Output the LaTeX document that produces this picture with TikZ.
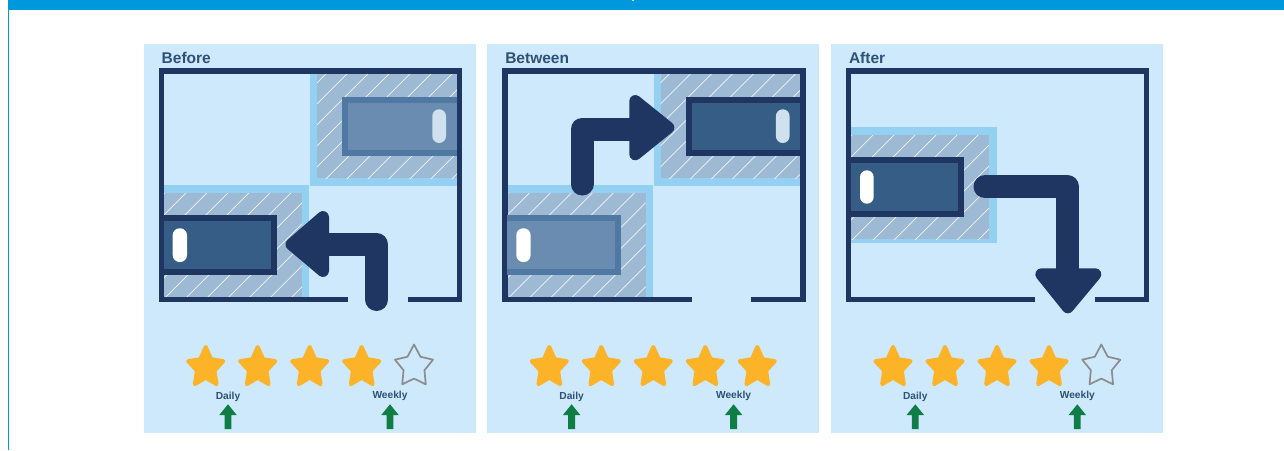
\documentclass[tikz,border=0pt]{standalone}
\usepackage{fontspec}
\setmainfont{Liberation Sans}
\definecolor{barblue}{HTML}{0098DC}
\definecolor{panelblue}{HTML}{CDE9FB}
\definecolor{slotblue}{HTML}{93D0F1}
\definecolor{hatchblue}{HTML}{9DB9D3}
\definecolor{navy}{HTML}{1F3663}
\definecolor{carfill}{HTML}{355D85}
\definecolor{fadefill}{HTML}{6A8CB0}
\definecolor{fadeborder}{HTML}{4F78A3}
\definecolor{fadehandle}{HTML}{CFE0EF}
\definecolor{starorange}{HTML}{FDB328}
\definecolor{stargrey}{HTML}{8C8C8C}
\definecolor{arrowgreen}{HTML}{0F7D45}
\definecolor{titleblue}{HTML}{2F5078}
\tikzset{
  panelbox/.style={fill=panelblue,draw=none},
  wall/.style={draw=navy,line width=5.4pt,line cap=butt,miter limit=10},
  bigshaft/.style={draw=navy,line width=23pt,line join=round},
  bighead/.style={draw=navy,fill=navy,line width=12pt,line join=round},
  paneltitle/.style={font=\bfseries\fontsize{15.5}{18}\selectfont,text=titleblue,anchor=base west,inner sep=0pt},
  ratelabel/.style={font=\bfseries\fontsize{10.2}{12}\selectfont,text=titleblue,anchor=center,inner sep=0pt},
  greenarrow/.style={fill=arrowgreen,draw=none}
}
% hatched slot: x1 y1 x2 y2 phase
\newcommand{\hatchbox}[5]{%
  \fill[hatchblue] (#1,#2) rectangle (#3,#4);
  \begin{scope}
    \clip (#1,#2) rectangle (#3,#4);
    \foreach \k in {0,...,34}{
      \draw[white!85!hatchblue,line width=0.7pt] ({#5+21*\k-#2},#2) -- ++(-150,150);
    }
  \end{scope}}
\newcommand{\handle}[5]{%
  \fill[#5,rounded corners=6.8pt] (#1,#2) rectangle (#3,#4);}
\newcommand{\fullstar}[2]{%
  \filldraw[fill=starorange,draw=starorange,line width=4pt,line join=round]
    plot[samples at={0,1,...,9}] ({#1+18.4*(1-0.5*mod(\x,2))*sin(36*\x)},{#2-20.5*(1-0.5*mod(\x,2))*cos(36*\x)}) -- cycle;}
\newcommand{\emptystar}[2]{%
  \draw[draw=stargrey,line width=1.7pt,line join=round]
    plot[samples at={0,1,...,9}] ({#1+20*(1-0.45*mod(\x,2))*sin(36*\x)},{#2-22*(1-0.45*mod(\x,2))*cos(36*\x)}) -- cycle;}
\newcommand{\uparrowgreen}[1]{%
  \fill[greenarrow] ({#1-3.4},429) -- ({#1-3.4},415) -- ({#1-8.7},415) -- (#1,404.3) -- ({#1+8.7},415) -- ({#1+3.4},415) -- ({#1+3.4},429) -- cycle;}
\newcommand{\frameroom}{%
  \draw[wall] (348,299.2) -- (161.4,299.2) -- (161.4,71) -- (459.2,71) -- (459.2,299.2) -- (407.7,299.2);}
\newcommand{\slotTR}[1]{%
  \fill[slotblue] (310,73) rectangle (457.5,186);
  \hatchbox{317}{73}{457.5}{178}{#1}}
\newcommand{\slotBL}[1]{%
  \fill[slotblue] (162,185) rectangle (309,298);
  \hatchbox{162}{193}{302}{298}{#1}}
\newcommand{\ratings}[3]{%
  \fullstar{205.7}{367.5}\fullstar{257.7}{367.5}\fullstar{309.7}{367.5}\fullstar{361.7}{367.5}
  #1
  \node[ratelabel] (#2) at (228,397) {Daily};
  \node[ratelabel] (#3) at (390,396) {Weekly};
  \uparrowgreen{228}\uparrowgreen{390}}
\begin{document}
\begin{tikzpicture}[x=1pt,y=-1pt]
\useasboundingbox (0,0) rectangle (1284,450);
\fill[white] (0,0) rectangle (1284,450);
\fill[barblue] (7.6,0) rectangle (1284,9.5);
\fill[barblue] (7.6,0) rectangle (9.2,450);
\fill[white!75!barblue] (631.5,0) rectangle (634,1.2);

% ---------- Before
\begin{scope}
\fill[panelbox] (143.5,44) rectangle (475.5,432.6);
\node[paneltitle] (titleA) at (161.5,63.3) {Before};
\slotTR{0.8}
\slotBL{0.8}
\frameroom
\fill[fadeborder] (342,96.7) rectangle (456.7,156.3);
\fill[fadefill] (348,102.7) rectangle (456.7,150.3);
\handle{432.3}{109.3}{446}{143}{fadehandle}
\fill[navy] (163.7,215) rectangle (277,275);
\fill[carfill] (163.7,221) rectangle (271,269);
\handle{172.7}{228.3}{187}{262}{white}
\coordinate (a1) at (376.7,299.5);
\coordinate (a2) at (376.7,244.4);
\coordinate (a3) at (320,244.4);
\draw[bigshaft,line cap=round] (a1) -- (a2) -- (a3);
\coordinate (ah1) at (323,217);
\coordinate (ah2) at (291.5,244.4);
\coordinate (ah3) at (323,271);
\filldraw[bighead] (ah1) -- (ah2) -- (ah3) -- cycle;
\ratings{\emptystar{414}{366.5}}{dailyA}{weeklyA}
\end{scope}

% ---------- Between
\begin{scope}[xshift=343.6pt]
\fill[panelbox] (143.4,44) rectangle (475.4,432.6);
\node[paneltitle] (titleB) at (161.5,63.3) {Between};
\slotTR{0.8}
\slotBL{0.8}
\frameroom
\fill[navy] (342,96.7) rectangle (456.7,156.3);
\fill[carfill] (348,102.7) rectangle (456.7,150.3);
\handle{432.3}{109.3}{446}{143}{fadehandle}
\fill[fadeborder] (163.7,215) rectangle (277,275);
\fill[fadefill] (163.7,221) rectangle (271,269);
\handle{172.7}{228.3}{187}{262}{white}
\coordinate (b1) at (238.4,184);
\coordinate (b2) at (238.4,129);
\coordinate (b3) at (295,129);
\draw[bigshaft,line cap=round] (b1) -- (b2) -- (b3);
\coordinate (bh1) at (291.7,101);
\coordinate (bh2) at (324.7,127.6);
\coordinate (bh3) at (291.7,154.3);
\filldraw[bighead] (bh1) -- (bh2) -- (bh3) -- cycle;
\ratings{\fullstar{413.7}{367.5}}{dailyB}{weeklyB}
\end{scope}

% ---------- After
\begin{scope}[xshift=687.3pt]
\fill[panelbox] (143.2,44) rectangle (475.7,432.6);
\node[paneltitle] (titleC) at (161.5,63.3) {After};
\fill[slotblue] (162,127.3) rectangle (309.4,242.7);
\hatchbox{162}{135}{301.7}{239.3}{5.7}
\frameroom
\fill[navy] (163.7,157) rectangle (276.4,217);
\fill[carfill] (163.7,163) rectangle (270.4,211);
\handle{172.7}{170.3}{186.4}{203.7}{white}
\coordinate (c1) at (297.7,186.7);
\coordinate (c2) at (380.2,186.7);
\coordinate (c3) at (380.2,280);
\draw[bigshaft,line cap=round] (c1) -- (c2) -- (c3);
\coordinate (ch1) at (354,274.3);
\coordinate (ch2) at (380.5,307.3);
\coordinate (ch3) at (408,274.3);
\filldraw[bighead] (ch1) -- (ch2) -- (ch3) -- cycle;
\ratings{\emptystar{414}{366.5}}{dailyC}{weeklyC}
\end{scope}
\end{tikzpicture}
\end{document}
